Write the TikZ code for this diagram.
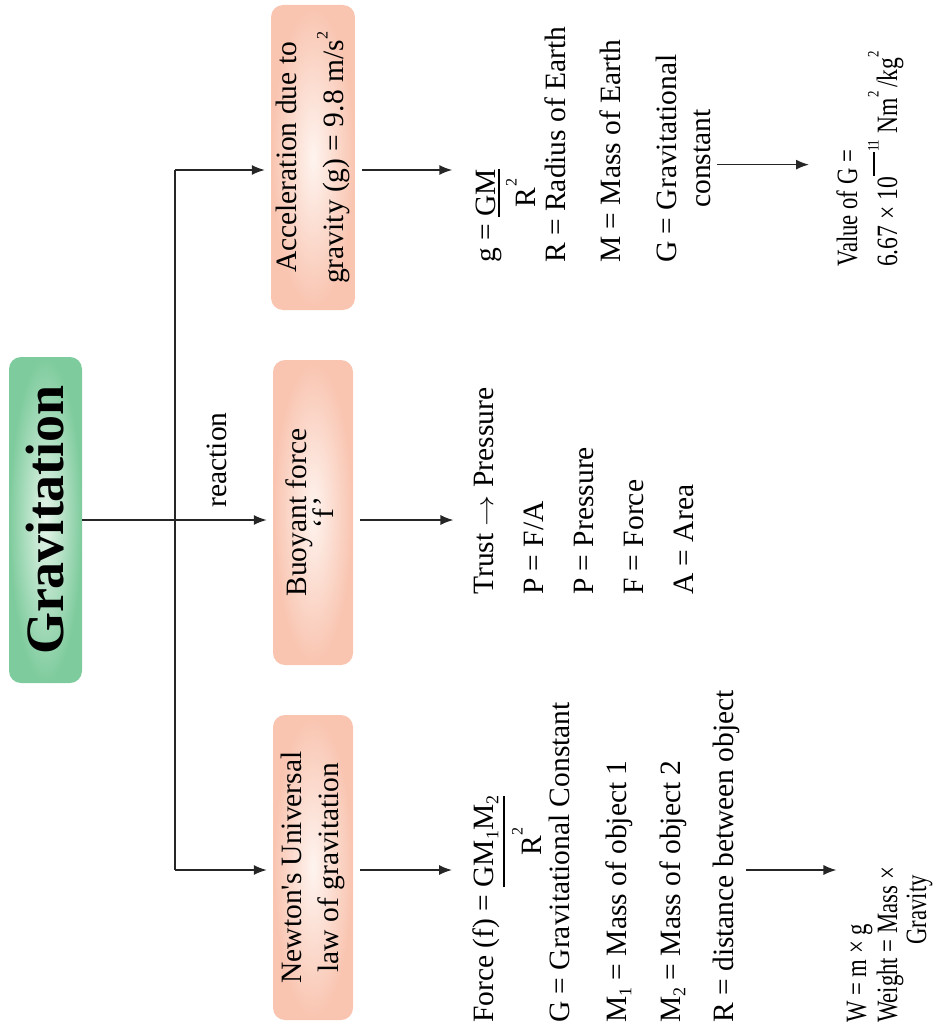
\documentclass[tikz,border=0pt]{standalone}
\usepackage{fontspec}
\setmainfont{Liberation Serif}
\usetikzlibrary{arrows.meta}
\definecolor{gout}{RGB}{126,203,157}
\definecolor{gin}{RGB}{230,245,234}
\definecolor{sout}{RGB}{249,196,176}
\definecolor{sin}{RGB}{254,244,239}
\newcommand\sups[2][0.62em]{\kern1pt\raisebox{#1}{\fontsize{16}{16}\selectfont #2}}
\newcommand\subs[1]{\raisebox{-0.18em}{\fontsize{18}{18}\selectfont #1}}
\newcommand\cmp[1]{\scalebox{0.77}[1]{#1}}
\newcommand\ufrac[4]{\begingroup
  \setbox0\hbox{#3}\setbox2\hbox{#4}%
  \dimen0=\wd0 \ifdim\wd2>\dimen0 \dimen0=\wd2 \fi
  \vtop{\baselineskip=#2\lineskiplimit=-\maxdimen\lineskip=0pt
    \hbox to\dimen0{\hfil\box0\hfil\llap{\vrule width\dimen0 height -#1 depth \dimexpr#1+1.5pt\relax}}%
    \hbox to\dimen0{\hfil\box2\hfil}}%
  \endgroup}
\begin{document}
\begin{tikzpicture}[x=1pt,y=-1pt,
  every node/.style={font=\fontsize{29.5}{37}\selectfont, text=black},
  colt/.style={rotate=90, anchor=base west, inner sep=0pt},
  colc/.style={rotate=90, anchor=base, inner sep=0pt},
  sbox/.style={rounded corners=12pt, shading=radial, inner color=sin, outer color=sout,
    minimum width=80pt, minimum height=305pt, inner sep=0pt},
  gbox/.style={rounded corners=12pt, shading=radial, inner color=gin, outer color=gout,
    minimum width=73pt, minimum height=326pt, inner sep=0pt},
  conn/.style={line width=1.5pt, draw=black!85},
  arr/.style={conn, -{Latex[length=13pt,width=10pt]}}
]
\useasboundingbox (0,0) rectangle (935,1035);

% main boxes
\node[gbox] (grav) at (45.5,520) {\rotatebox{90}{\fontsize{54}{60}\selectfont\bfseries Gravitation}};
\node[sbox] (acc) at (313,157.5) {\rotatebox{90}{\begin{tabular}{@{}c@{}}Acceleration due to\\[9pt] gravity (g) = 9.8 m/s\sups[0.55em]{2}\end{tabular}}};
\node[sbox] (buoy) at (313,512.5) {\rotatebox{90}{\begin{tabular}{@{}c@{}}Buoyant force\\[-10pt] ‘f’\end{tabular}}};
\node[sbox] (newt) at (313,867.5) {\rotatebox{90}{\begin{tabular}{@{}c@{}}Newton\textquotesingle s Universal\\ law of gravitation\end{tabular}}};

% acceleration column
\node[colt] (a1) at (495,263) {g = \ufrac{3pt}{40pt}{GM}{R\sups{2}}};
\node[colt] (a2) at (565,263) {R = Radius of Earth};
\node[colt] (a3) at (620,263) {M = Mass of Earth};
\node[colt] (a4) at (676,263) {G = Gravitational};
\node[colc] (a5) at (a4.center -| 710,0) {constant};
\node[colt] (v1) at (857,267) {\cmp{Value of G =}};
\node[colt] (v2) at (897,267) {\scalebox{0.8}[1]{6.67 × 10\sups{\rule[0.25em]{30pt}{1.3pt}11} Nm\sups{2}\kern4pt/kg\sups{2}}};

% buoyant column
\node[colt] (b1) at (493,595) {Trust \scalebox{1.25}[1]{$\rightarrow$} Pressure};
\node[colt] (b2) at (543,595) {P = F/A};
\node[colt] (b3) at (593,595) {P = Pressure};
\node[colt] (b4) at (643,595) {F = Force};
\node[colt] (b5) at (693,595) {A = Area};

% newton column
\node[colt] (n1) at (493,1023) {Force (f) = \ufrac{10pt}{48pt}{GM\subs{1}M\subs{2}}{R\sups{2}}};
\node[colt] (n2) at (569,1023) {G = Gravitational Constant};
\node[colt] (n3) at (626,1023) {M\subs{1} = Mass of object 1};
\node[colt] (n4) at (680,1023) {M\subs{2} = Mass of object 2};
\node[colt] (n5) at (733,1023) {R = distance between object};
\node[colt] (w1) at (866,1023) {\cmp{W = m × g}};
\node[colt] (w2) at (897,1023) {\cmp{Weight = Mass ×}};
\node[colc] (w3) at (926,910) {\cmp{Gravity}};

% trunk
\coordinate (tTop) at (175,170);
\coordinate (tMid) at (175,520);
\coordinate (tBot) at (175,870);
\draw[conn] (grav.east |- tMid) -- (tMid);
\draw[conn] (tTop) -- (tBot);
\draw[arr, shorten >=6pt] (tTop) -- (tTop -| acc.west);
\draw[arr, shorten >=6pt] (tMid) -- (tMid -| buoy.west);
\draw[arr, shorten >=6pt] (tBot) -- (tBot -| newt.west);
\node[colc] (react) at (226,460) {reaction};

% boxes to columns
\draw[arr, shorten <=7pt, shorten >=23pt] (tTop -| acc.east) -- (tTop -| a1.north);
\draw[arr, shorten <=7pt, shorten >=20pt] (tMid -| buoy.east) -- (tMid -| b1.north);
\draw[arr, shorten <=7pt, shorten >=20pt] (tBot -| newt.east) -- (tBot -| n1.north);

% second level
\draw[arr, shorten <=7pt, shorten >=27pt] ([yshift=-6pt]a5.south) -- ([yshift=-6pt]a5.south -| v1.north);
\draw[arr, shorten <=7pt, shorten >=10pt] (tBot -| n5.south) -- (tBot -| w1.north);
\end{tikzpicture}
\end{document}
